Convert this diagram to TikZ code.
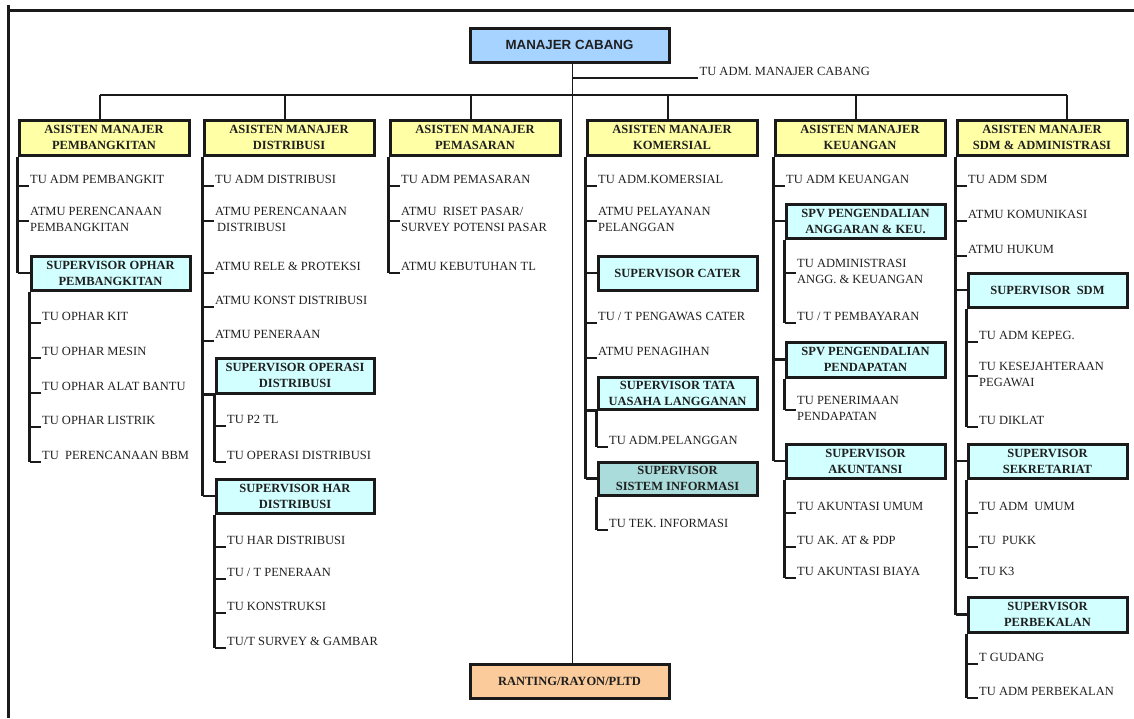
\documentclass[tikz,border=0pt]{standalone}
\usepackage{fontspec}
\setmainfont{Liberation Serif}
\newfontfamily\headsans{Liberation Sans}
\usetikzlibrary{calc}

\definecolor{ink}{HTML}{1A1A1A}
\definecolor{txt}{HTML}{1F1F1F}
\definecolor{asstfill}{HTML}{FFFFA6}
\definecolor{spvfill}{HTML}{D2FFFF}
\definecolor{sysfill}{HTML}{A9DCDA}
\definecolor{topfill}{HTML}{A6D3FF}
\definecolor{rayonfill}{HTML}{FBCB9B}

\tikzset{
  link/.style={draw=ink, line width=2.2pt},
  frame/.style={draw=ink, line width=3pt},
  unit/.style={draw=ink, line width=3pt, inner sep=0pt, align=center, text=txt,
    font=\fontsize{12.5}{16}\selectfont\bfseries},
  asst/.style={unit, fill=asstfill},
  spv/.style={unit, fill=spvfill},
  sys/.style={unit, fill=sysfill},
  chief/.style={unit, fill=topfill, font=\headsans\bfseries\fontsize{13.3}{16}\selectfont},
  rayon/.style={unit, fill=rayonfill},
  leafone/.style={anchor=south west, inner xsep=1.5pt, inner ysep=2.7pt, text depth=0pt,
    align=left, text=txt, font=\fontsize{12.5}{16}\selectfont},
  leaftwo/.style={anchor=west, inner xsep=1.5pt, inner ysep=0pt, text depth=0pt, yshift=1.5pt,
    align=left, text=txt, font=\fontsize{12.5}{16}\selectfont},
}

% box given by its corners: name, x1, y1, x2, y2, style, text
\newcommand\orgbox[7]{%
  \node[#6, minimum width={(#4-#2)*1pt}, minimum height={(#5-#3)*1pt}]
    (#1) at ({(#2+#4)/2},{(#3+#5)/2}) {#7};}

% one-line staff entry hanging off the spine of box #2 at height #3
\newcommand\leaf[4]{%
  \coordinate (#1-t) at (#2.south west |- 0,#3);
  \node[leafone] (#1) at ([xshift=11pt]#1-t) {#4};
  \draw[link] (#1-t) -- (#1.south west);}

% two-line staff entry
\newcommand\leafii[4]{%
  \coordinate (#1-t) at (#2.south west |- 0,#3);
  \node[leaftwo] (#1) at ([xshift=11pt]#1-t) {#4};
  \draw[link] (#1-t) -- ([xshift=11pt]#1-t);}

% supervisor box joined to the spine of box #1 (at its middle or its bottom)
\newcommand\joinmid[2]{\draw[link] (#1.south west |- #2.west) -- (#2.west);}
\newcommand\joinlow[2]{\draw[link] (#1.south west |- #2.south west) -- (#2.south west);}

\begin{document}
\begin{tikzpicture}[x=1pt, y=-1pt]
\useasboundingbox (0,0) rectangle (1134,718);

% outer frame
\draw[frame] (8,5) -- (8,718);
\draw[frame] (8,10) -- (1134,10);

% head and rayon
\orgbox{mc}{470}{28}{669}{62}{chief}{MANAJER CABANG}
\orgbox{rt}{470}{664}{669}{698}{rayon}{RANTING/RAYON/PLTD}
\coordinate (cx) at ([xshift=3pt]mc.south);
\draw[link, line width=1.8pt] (cx) -- (cx |- rt.north);
\node[leafone] (tuc) at (698,78) {TU ADM. MANAJER CABANG};
\draw[link, line width=1.8pt] (cx |- tuc.south west) -- (tuc.south west);

% assistant managers
\orgbox{a1}{19}{120}{189}{155}{asst}{ASISTEN MANAJER\\PEMBANGKITAN}
\orgbox{a2}{204}{120}{374}{155}{asst}{ASISTEN MANAJER\\DISTRIBUSI}
\orgbox{a3}{390}{120}{560}{155}{asst}{ASISTEN MANAJER\\PEMASARAN}
\orgbox{a4}{587}{120}{757}{155}{asst}{ASISTEN MANAJER\\KOMERSIAL}
\orgbox{a5}{775}{120}{945}{155}{asst}{ASISTEN MANAJER\\KEUANGAN}
\orgbox{a6}{957}{120}{1127}{155}{asst}{ASISTEN MANAJER\\SDM \& ADMINISTRASI}

% bus to the assistants
\coordinate (a1top) at ([xshift=-4pt]a1.north);
\coordinate (a2top) at ([xshift=-4pt]a2.north);
\coordinate (a3top) at ([xshift=-4pt]a3.north);
\coordinate (a4top) at ([xshift=-4pt]a4.north);
\coordinate (a5top) at ([xshift=-4pt]a5.north);
\coordinate (a6top) at ([xshift=25pt]a6.north);
\draw[link] (a1top |- 0,95) -- (a6top |- 0,95);
\foreach \k in {1,...,6} {\draw[link] (a\k top |- 0,95) -- (a\k top);}

% supervisors
\orgbox{s1}{31}{256}{190}{290}{spv}{SUPERVISOR OPHAR\\PEMBANGKITAN}
\orgbox{s2a}{216}{358}{374}{393}{spv}{SUPERVISOR OPERASI\\DISTRIBUSI}
\orgbox{s2b}{216}{479}{374}{513}{spv}{SUPERVISOR HAR\\DISTRIBUSI}
\orgbox{s4a}{598}{256}{757}{290}{spv}{SUPERVISOR CATER}
\orgbox{s4b}{598}{377}{757}{409}{spv}{SUPERVISOR TATA\\UASAHA LANGGANAN}
\orgbox{s4c}{598}{462}{757}{495}{sys}{SUPERVISOR\\SISTEM INFORMASI}
\orgbox{s5a}{786}{204}{945}{238}{spv}{SPV PENGENDALIAN\\ANGGARAN \& KEU.}
\orgbox{s5b}{786}{342}{945}{377}{spv}{SPV PENGENDALIAN\\PENDAPATAN}
\orgbox{s5c}{786}{444}{945}{478}{spv}{SUPERVISOR\\AKUNTANSI}
\orgbox{s6a}{968}{273}{1127}{307}{spv}{SUPERVISOR~ SDM}
\orgbox{s6b}{968}{444}{1127}{478}{spv}{SUPERVISOR\\SEKRETARIAT}
\orgbox{s6c}{968}{597}{1127}{632}{spv}{SUPERVISOR\\PERBEKALAN}

% --- Pembangkitan
\draw[link] (a1.south west) -- (a1.south west |- s1.west);
\leaf{p1}{a1}{186}{TU ADM PEMBANGKIT}
\leafii{p2}{a1}{221}{ATMU PERENCANAAN\\PEMBANGKITAN}
\joinmid{a1}{s1}
\draw[link] (s1.south west) -- (s1.south west |- 0,462);
\leaf{p3}{s1}{323}{TU OPHAR KIT}
\leaf{p4}{s1}{358}{TU OPHAR MESIN}
\leaf{p5}{s1}{393}{TU OPHAR ALAT BANTU}
\leaf{p6}{s1}{427}{TU OPHAR LISTRIK}
\leaf{p7}{s1}{462}{TU~ PERENCANAAN BBM}

% --- Distribusi
\draw[link] (a2.south west) -- (a2.south west |- s2b.west);
\leaf{d1}{a2}{186}{TU ADM DISTRIBUSI}
\leafii{d2}{a2}{221}{ATMU PERENCANAAN\\\hspace{2pt}DISTRIBUSI}
\leaf{d3}{a2}{273}{ATMU RELE \& PROTEKSI}
\leaf{d4}{a2}{307}{ATMU KONST DISTRIBUSI}
\leaf{d5}{a2}{341}{ATMU PENERAAN}
\joinlow{a2}{s2a}
\joinmid{a2}{s2b}
\draw[link] (s2a.south west) -- (s2a.south west |- 0,462);
\leaf{d6}{s2a}{426}{TU P2 TL}
\leaf{d7}{s2a}{462}{TU OPERASI DISTRIBUSI}
\draw[link] (s2b.south west) -- (s2b.south west |- 0,648);
\leaf{d8}{s2b}{547}{TU HAR DISTRIBUSI}
\leaf{d9}{s2b}{579}{TU / T PENERAAN}
\leaf{d10}{s2b}{613}{TU KONSTRUKSI}
\leaf{d11}{s2b}{648}{TU/T SURVEY \& GAMBAR}

% --- Pemasaran
\draw[link] (a3.south west) -- (a3.south west |- 0,273);
\leaf{m1}{a3}{186}{TU ADM PEMASARAN}
\leafii{m2}{a3}{221}{ATMU~ RISET PASAR/\\SURVEY POTENSI PASAR}
\leaf{m3}{a3}{273}{ATMU KEBUTUHAN TL}

% --- Komersial
\draw[link] (a4.south west) -- (a4.south west |- s4c.west);
\leaf{k1}{a4}{186}{TU ADM.KOMERSIAL}
\leafii{k2}{a4}{221}{ATMU PELAYANAN\\PELANGGAN}
\joinmid{a4}{s4a}
\leaf{k3}{a4}{323}{TU / T PENGAWAS CATER}
\leaf{k4}{a4}{358}{ATMU PENAGIHAN}
\joinlow{a4}{s4b}
\joinmid{a4}{s4c}
\draw[link] (s4b.south west) -- (s4b.south west |- 0,447);
\leaf{k5}{s4b}{447}{TU ADM.PELANGGAN}
\draw[link] (s4c.south west) -- (s4c.south west |- 0,530);
\leaf{k6}{s4c}{530}{TU TEK. INFORMASI}

% --- Keuangan
\draw[link] (a5.south west) -- (a5.south west |- s5c.west);
\leaf{u1}{a5}{186}{TU ADM KEUANGAN}
\joinmid{a5}{s5a}
\joinmid{a5}{s5b}
\joinmid{a5}{s5c}
\draw[link] (s5a.south west) -- (s5a.south west |- 0,323);
\leafii{u2}{s5a}{273}{TU ADMINISTRASI\\ANGG. \& KEUANGAN}
\leaf{u3}{s5a}{323}{TU / T PEMBAYARAN}
\draw[link] (s5b.south west) -- (s5b.south west |- 0,410);
\leafii{u4}{s5b}{410}{TU PENERIMAAN\\PENDAPATAN}
\draw[link] (s5c.south west) -- (s5c.south west |- 0,578);
\leaf{u5}{s5c}{513}{TU AKUNTASI UMUM}
\leaf{u6}{s5c}{547}{TU AK. AT \& PDP}
\leaf{u7}{s5c}{578}{TU AKUNTASI BIAYA}

% --- SDM & Administrasi
\draw[link] (a6.south west) -- (a6.south west |- s6c.west);
\leaf{h1}{a6}{186}{TU ADM SDM}
\leaf{h2}{a6}{221}{ATMU KOMUNIKASI}
\leaf{h3}{a6}{256}{ATMU HUKUM}
\joinmid{a6}{s6a}
\joinmid{a6}{s6b}
\joinmid{a6}{s6c}
\draw[link] (s6a.south west) -- (s6a.south west |- 0,427);
\leaf{h4}{s6a}{342}{TU ADM KEPEG.}
\leafii{h5}{s6a}{376}{TU KESEJAHTERAAN\\PEGAWAI}
\leaf{h6}{s6a}{427}{TU DIKLAT}
\draw[link] (s6b.south west) -- (s6b.south west |- 0,578);
\leaf{h7}{s6b}{513}{TU ADM~ UMUM}
\leaf{h8}{s6b}{547}{TU~ PUKK}
\leaf{h9}{s6b}{578}{TU K3}
\draw[link] (s6c.south west) -- (s6c.south west |- 0,698);
\leaf{h10}{s6c}{664}{T GUDANG}
\leaf{h11}{s6c}{698}{TU ADM PERBEKALAN}
\end{tikzpicture}
\end{document}
